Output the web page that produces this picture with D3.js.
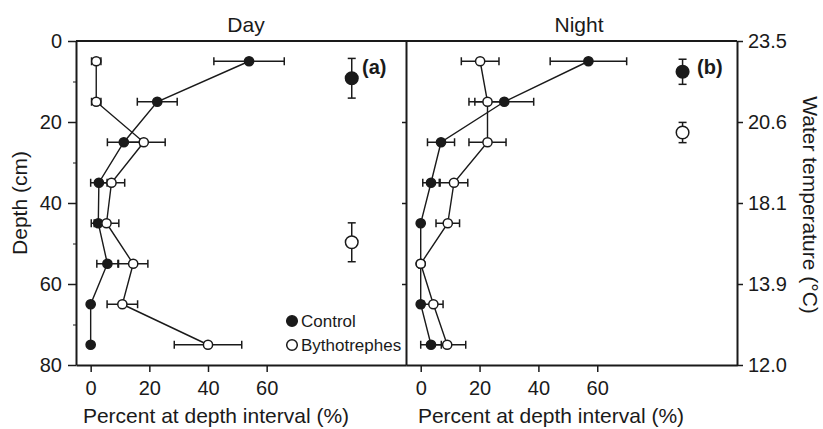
<!DOCTYPE html>
<html>
<head>
<meta charset="utf-8">
<script src="https://cdn.jsdelivr.net/npm/d3@7"></script>
<style>
  body { margin: 0; background: #fff; }
  svg { font-family: "Liberation Sans", Arial, sans-serif; }
  .axis path, .axis line { stroke: #1a1a1a; }
</style>
</head>
<body>
<svg width="823" height="429"></svg>
<script>
// depth interval midpoints (cm)
const depths = [5, 15, 25, 35, 45, 55, 65, 75];

const dayControl = [54, 22.7, 11.3, 2.8, 2.6, 5.7, 0, 0];
const dayControlErr = [12, 6.8, 5.6, 2.8, 2.4, 3.6, 0, 0];
const dayBytho = [1.9, 1.9, 18.1, 7.1, 5.4, 14.5, 10.8, 40];
const dayBythoErr = [1.6, 1.6, 7.3, 4.5, 4.2, 5, 5.2, 11.5];

const nightControl = [57, 28.4, 6.9, 3.5, 0, 0, 0, 3.5];
const nightControlErr = [13, 10, 4.6, 2.8, 0, 0, 0.8, 3.5];
const nightBytho = [20.2, 22.7, 22.7, 11.3, 9.2, 0, 4.3, 9];
const nightBythoErr = [6.4, 6.3, 6.3, 4.7, 4, 0, 3.3, 6.3];

// mean depth (control, bythotrephes)
const meanX = 89;
const dayMean = [9.2, 49.7];
const dayMeanErr = [4.9, 4.8];
const nightMean = [7.6, 22.6];
const nightMeanErr = [3.1, 2.5];

const depthTicks = [0, 20, 40, 60, 80];
const tempLabels = ["23.5", "20.6", "18.1", "13.9", "12.0"];
const pctTicks = [0, 20, 40, 60];

const svg = d3.select("svg");
const ink = "#1a1a1a";

const y = d3.scaleLinear().domain([0, 80]).range([41, 365]);
const xDay = d3.scaleLinear().domain([-5, 107.5]).range([76, 406]);
const xNight = d3.scaleLinear().domain([-5, 107.5]).range([406, 737]);

function styleAxis(g) {
    g.select(".domain").attr("stroke-width", 2);
    g.selectAll(".tick line").attr("stroke-width", 1.5);
    g.selectAll("text").attr("fill", ink).style("font-size", "20px");
}

// top frame line
svg.append("line")
    .attr("x1", 76).attr("x2", 737).attr("y1", y(0)).attr("y2", y(0))
    .attr("stroke", ink).attr("stroke-width", 2);

// left depth axis
svg.append("g")
    .attr("class", "axis")
    .attr("transform", "translate(76,0)")
    .call(d3.axisLeft(y).tickValues(depthTicks).tickSize(8).tickPadding(6).tickSizeOuter(0))
    .call(styleAxis);

// minor ticks on depth axis
svg.append("g")
    .attr("class", "axis")
    .attr("transform", "translate(76,0)")
    .call(d3.axisLeft(y).tickValues([10, 30, 50, 70]).tickSize(3).tickFormat("").tickSizeOuter(0))
    .call(g => g.select(".domain").remove());

// divider between panels
svg.append("g")
    .attr("class", "axis")
    .attr("transform", "translate(406,0)")
    .call(d3.axisLeft(y).tickValues([20, 40, 60]).tickSize(4).tickFormat("").tickSizeOuter(0))
    .call(styleAxis);

// right temperature axis
svg.append("g")
    .attr("class", "axis")
    .attr("transform", "translate(737,0)")
    .call(d3.axisRight(y).tickValues(depthTicks).tickSize(6).tickPadding(5).tickSizeOuter(0)
        .tickFormat((d, i) => tempLabels[i]))
    .call(styleAxis);

// bottom axes
[xDay, xNight].forEach(x => {
    svg.append("g")
        .attr("class", "axis")
        .attr("transform", `translate(0,${y(80)})`)
        .call(d3.axisBottom(x).tickValues(pctTicks).tickSize(7).tickPadding(9).tickSizeOuter(0))
        .call(styleAxis);
});

function drawPanel(x, control, controlErr, bytho, bythoErr, mean, meanErr) {
    const g = svg.append("g");
    const series = [
        {vals: control, errs: controlErr, fill: ink},
        {vals: bytho, errs: bythoErr, fill: "#fff"}
    ];
    const line = d3.line().x(d => x(d[0])).y(d => y(d[1]));

    series.forEach(s => {
        const pts = s.vals.map((v, i) => [v, depths[i]]);
        g.append("path")
            .attr("d", line(pts))
            .attr("fill", "none")
            .attr("stroke", ink)
            .attr("stroke-width", 1.4);
    });

    series.forEach(s => {
        s.vals.forEach((v, i) => {
            const e = s.errs[i];
            if (!e) return;
            const yy = y(depths[i]);
            g.append("line")
                .attr("x1", x(v - e)).attr("x2", x(v + e))
                .attr("y1", yy).attr("y2", yy)
                .attr("stroke", ink).attr("stroke-width", 1.5);
            [v - e, v + e].forEach(c => {
                g.append("line")
                    .attr("x1", x(c)).attr("x2", x(c))
                    .attr("y1", yy - 4).attr("y2", yy + 4)
                    .attr("stroke", ink).attr("stroke-width", 1.5);
            });
        });
    });

    series.forEach(s => {
        g.selectAll(null)
            .data(s.vals.map((v, i) => [v, depths[i]]))
            .enter().append("circle")
            .attr("cx", d => x(d[0]))
            .attr("cy", d => y(d[1]))
            .attr("r", 4.6)
            .attr("fill", s.fill)
            .attr("stroke", ink)
            .attr("stroke-width", 1.5);
    });

    // mean depth points
    mean.forEach((m, i) => {
        const e = meanErr[i];
        const cx = x(meanX);
        g.append("line")
            .attr("x1", cx).attr("x2", cx)
            .attr("y1", y(m - e)).attr("y2", y(m + e))
            .attr("stroke", ink).attr("stroke-width", 1.5);
        [m - e, m + e].forEach(c => {
            g.append("line")
                .attr("x1", cx - 4).attr("x2", cx + 4)
                .attr("y1", y(c)).attr("y2", y(c))
                .attr("stroke", ink).attr("stroke-width", 1.5);
        });
        g.append("circle")
            .attr("cx", cx).attr("cy", y(m))
            .attr("r", 6.3)
            .attr("fill", i === 0 ? ink : "#fff")
            .attr("stroke", ink)
            .attr("stroke-width", 1.5);
    });
}

drawPanel(xDay, dayControl, dayControlErr, dayBytho, dayBythoErr, dayMean, dayMeanErr);
drawPanel(xNight, nightControl, nightControlErr, nightBytho, nightBythoErr, nightMean, nightMeanErr);

// panel titles and letters
svg.append("text").attr("x", 246).attr("y", 32).attr("text-anchor", "middle")
    .style("font-size", "21px").attr("fill", ink).text("Day");
svg.append("text").attr("x", 579).attr("y", 32).attr("text-anchor", "middle")
    .style("font-size", "21px").attr("fill", ink).text("Night");
svg.append("text").attr("x", 362).attr("y", 74)
    .style("font-size", "20px").style("font-weight", "bold").attr("fill", ink).text("(a)");
svg.append("text").attr("x", 697).attr("y", 74)
    .style("font-size", "20px").style("font-weight", "bold").attr("fill", ink).text("(b)");

// axis titles
svg.append("text").attr("x", 216).attr("y", 423).attr("text-anchor", "middle")
    .style("font-size", "21px").attr("fill", ink).text("Percent at depth interval (%)");
svg.append("text").attr("x", 551).attr("y", 423).attr("text-anchor", "middle")
    .style("font-size", "21px").attr("fill", ink).text("Percent at depth interval (%)");
svg.append("text").attr("transform", "translate(27,203) rotate(-90)").attr("text-anchor", "middle")
    .style("font-size", "21px").attr("fill", ink).text("Depth (cm)");
svg.append("text").attr("transform", "translate(803,205) rotate(90)").attr("text-anchor", "middle")
    .style("font-size", "21px").attr("fill", ink).text("Water temperature (°C)");

// legend
const legend = [{label: "Control", fill: ink}, {label: "Bythotrephes", fill: "#fff"}];
legend.forEach((d, i) => {
    const ly = 321 + i * 24;
    svg.append("circle").attr("cx", 292).attr("cy", ly).attr("r", 5.3)
        .attr("fill", d.fill).attr("stroke", ink).attr("stroke-width", 1.5);
    svg.append("text").attr("x", 301).attr("y", ly).attr("dy", "0.35em")
        .style("font-size", "17px").attr("fill", ink).text(d.label);
});
</script>
</body>
</html>
